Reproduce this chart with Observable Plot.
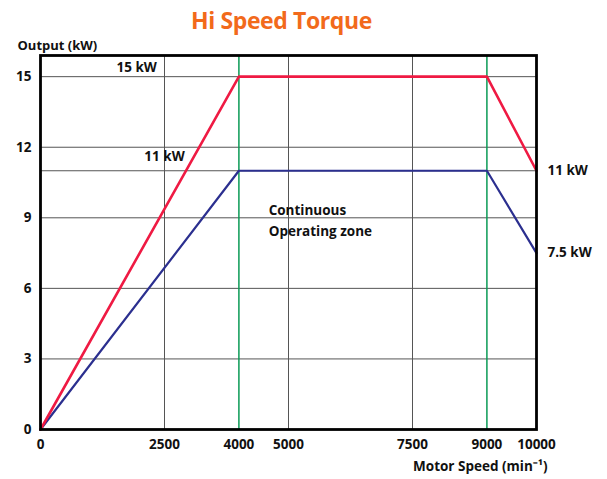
<!DOCTYPE html>
<html>
<head>
<meta charset="utf-8">
<script src="https://cdn.jsdelivr.net/npm/d3@7"></script>
<script src="https://cdn.jsdelivr.net/npm/@observablehq/plot@0.6"></script>
<style>
  html, body { margin: 0; padding: 0; background: #fff; }
  #wrap { width: 607px; font-family: "Open Sans", sans-serif; }
  #title { height: 32px; line-height: 40px; text-align: center;
           font-size: 23px; font-weight: 700; color: #f26a1b; letter-spacing: -0.4px; }
  #title span { position: relative; left: -22px; }
  sup { font-size: 8px; }
</style>
</head>
<body>
<div id="wrap">
  <div id="title"><span>Hi Speed Torque</span></div>
  <div id="chart"></div>
</div>
<script>
// Data
const speed      = [0, 4000, 9000, 10000];
const maxOutput  = [0, 15, 15, 11];     // red line
const contOutput = [0, 11, 11, 7.5];    // blue line
const xTicks = [0, 2500, 4000, 5000, 7500, 9000, 10000];
const yTicks = [0, 3, 6, 9, 12, 15];
const gridYValues = [3, 6, 9, 11, 12, 15];
const grayGridX = [2500, 5000, 7500];
const greenGridX = [4000, 9000];
const endLabels = ["11 kW", "7.5 kW"];
const endValues = [11, 7.5];

const redData = speed.map((s, i) => ({speed: s, kw: maxOutput[i]}));
const blueData = speed.map((s, i) => ({speed: s, kw: contOutput[i]}));
const endData = endLabels.map((t, i) => ({speed: 10000, kw: endValues[i], t}));

const font = "Open Sans, sans-serif";
const fs = 13.5;

const chart = Plot.plot({
  width: 607,
  height: 447,
  marginLeft: 40,
  marginRight: 71,
  marginTop: 23,
  marginBottom: 50,
  style: {fontFamily: font, fontSize: "13.5px", fontWeight: 700, color: "#111", background: "#fff", overflow: "visible"},
  x: {domain: [0, 10000], ticks: xTicks, tickFormat: d => String(d), tickSize: 0, tickPadding: 10, label: null},
  y: {domain: [0, 15.9], ticks: yTicks, tickSize: 0, tickPadding: 9, label: null},
  marks: [
    Plot.ruleY(gridYValues, {stroke: "#555", strokeWidth: 1}),
    Plot.ruleX(grayGridX, {stroke: "#555", strokeWidth: 1}),
    Plot.ruleX(greenGridX, {stroke: "#0a9a55", strokeWidth: 1.5}),
    Plot.line(blueData, {x: "speed", y: "kw", stroke: "#2b2f8f", strokeWidth: 2.2}),
    Plot.line(redData, {x: "speed", y: "kw", stroke: "#ef1a43", strokeWidth: 2.6}),
    Plot.frame({stroke: "#000", strokeWidth: 2.8}),
    Plot.text(["15 kW"], {x: 1940, y: 15, dy: -9, text: d => d, fontSize: fs, fontWeight: 700}),
    Plot.text(["11 kW"], {x: 2500, y: 11, dy: -14, text: d => d, fontSize: fs, fontWeight: 700}),
    Plot.text(["Continuous", "Operating zone"], {x: 4600, y: [9.3, 8.4], text: d => d, textAnchor: "start", fontSize: fs, fontWeight: 700}),
    Plot.text(endData, {x: "speed", y: "kw", text: "t", textAnchor: "start", dx: 11, fontSize: fs, fontWeight: 700}),
    Plot.text(["Output (kW)"], {frameAnchor: "top-left", dx: -23, dy: -15, text: d => d, textAnchor: "start", fontSize: 13, fontWeight: 700}),
    Plot.text(["Motor Speed (min\u207B\u00B9)"], {frameAnchor: "bottom-right", dx: 11, dy: 41, text: d => d, textAnchor: "end", fontSize: fs, fontWeight: 700})
  ]
});
document.getElementById("chart").appendChild(chart);
</script>
</body>
</html>
